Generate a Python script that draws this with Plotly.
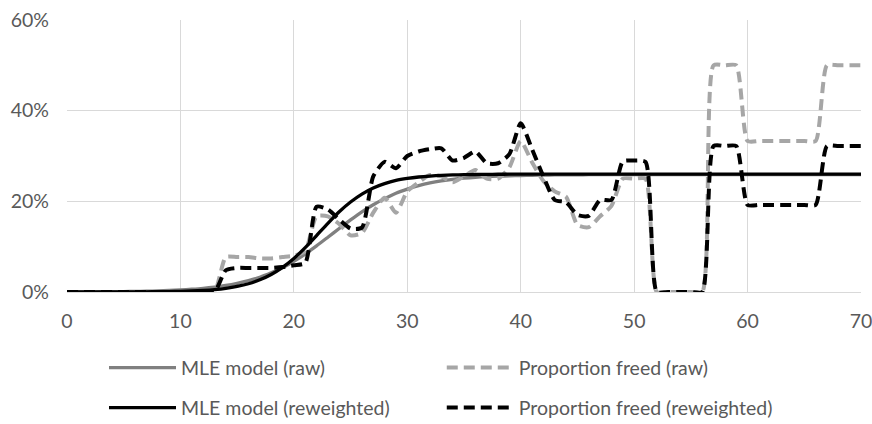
import plotly.graph_objects as go

days = list(range(0, 71))

mle_raw = [0.02, 0.03, 0.04, 0.05, 0.07, 0.10, 0.13, 0.18, 0.25, 0.33,
           0.45, 0.61, 0.81, 1.09, 1.44, 1.91, 2.50, 3.24, 4.22, 5.36,
           6.78, 8.38, 10.17, 12.08, 14.0, 15.9, 17.7, 19.25, 20.6, 21.8,
           22.7, 23.45, 24.05, 24.5, 24.85, 25.1, 25.3, 25.45, 25.55, 25.63,
           25.7, 25.75, 25.79, 25.82, 25.84, 25.86, 25.87, 25.88, 25.89, 25.89,
           25.9, 25.9, 25.9, 25.9, 25.9, 25.9, 25.9, 25.9, 25.9, 25.9,
           25.9, 25.9, 25.9, 25.9, 25.9, 25.9, 25.9, 25.9, 25.9, 25.9, 25.9]

prop_raw = [0, 0, 0, 0, 0, 0, 0, 0, 0, 0,
            0, 0, 0, 0, 7.7, 7.7, 7.7, 7.4, 7.4, 7.7,
            8.0, 9.0, 16.7, 16.7, 15.0, 12.5, 13.0, 17.5, 20.8, 17.5,
            22.2, 24.2, 25.8, 25.5, 24.2, 25.5, 26.9, 25.0, 25.0, 27.5,
            33.3, 28.6, 24.5, 22.2, 21.0, 14.8, 14.3, 16.7, 19.0, 25.0,
            25.0, 25.0, 0, 0, 0, 0, 0, 50.0, 50.0, 50.0,
            33.3, 33.3, 33.3, 33.3, 33.3, 33.3, 33.3, 50.0, 50.0, 50.0, 50.0]

mle_rw = [0.00, 0.00, 0.01, 0.01, 0.01, 0.02, 0.03, 0.04, 0.07, 0.10,
          0.15, 0.24, 0.36, 0.54, 0.82, 1.24, 1.82, 2.69, 3.87, 5.44,
          7.4, 9.8, 12.45, 15.15, 17.7, 19.85, 21.6, 22.95, 23.9, 24.6,
          25.05, 25.37, 25.58, 25.72, 25.82, 25.88, 25.92, 25.95, 25.97, 25.98,
          25.99, 26.0, 26.0, 26.0, 26.0, 26.0, 26.0, 26.0, 26.0, 26.0,
          26.0, 26.0, 26.0, 26.0, 26.0, 26.0, 26.0, 26.0, 26.0, 26.0,
          26.0, 26.0, 26.0, 26.0, 26.0, 26.0, 26.0, 26.0, 26.0, 26.0, 26.0]

prop_rw = [0, 0, 0, 0, 0, 0, 0, 0, 0, 0,
           0, 0, 0, 0, 4.8, 5.3, 5.3, 5.3, 5.3, 5.5,
           5.9, 6.4, 18.8, 18.2, 16.0, 14.0, 14.2, 25.5, 28.7, 27.3,
           30.0, 31.0, 31.5, 31.7, 29.0, 29.6, 31.0, 28.4, 28.4, 30.4,
           37.2, 31.5, 25.5, 20.3, 19.8, 17.0, 16.8, 20.3, 20.3, 28.8,
           29.0, 28.7, 0, 0, 0, 0, 0, 32.2, 32.2, 32.2,
           19.2, 19.2, 19.2, 19.2, 19.2, 19.2, 19.2, 32.2, 32.2, 32.2, 32.2]

x_ticks = [0, 10, 20, 30, 40, 50, 60, 70]
y_ticks = [0, 20, 40, 60]
y_tick_labels = ["0%", "20%", "40%", "60%"]

FONT = "Lato"
TXT = "#595959"
FS = 19.5

series = [
    ("MLE model (raw)", mle_raw, dict(color="#808080", width=3.3), "legend"),
    ("Proportion freed (raw)", prop_raw, dict(color="#a6a6a6", width=4, dash="11px,6px"), "legend2"),
    ("MLE model (reweighted)", mle_rw, dict(color="#000000", width=3.3), "legend3"),
    ("Proportion freed (reweighted)", prop_rw, dict(color="#000000", width=4, dash="11px,6px"), "legend4"),
]

fig = go.Figure()
for name, vals, ln, leg in series:
    fig.add_trace(go.Scatter(x=days, y=vals, name=name, mode="lines",
                             line=dict(shape="spline", smoothing=0.6, **ln),
                             cliponaxis=False, legend=leg))

def leg(x, y):
    return dict(x=x, y=y, orientation="h", xanchor="left", yanchor="middle",
                font=dict(family=FONT, size=FS, color=TXT),
                itemwidth=67, bgcolor="rgba(0,0,0,0)", borderwidth=0)

fig.update_layout(
    width=872, height=424,
    margin=dict(l=67, r=11, t=20, b=132, autoexpand=False),
    paper_bgcolor="white", plot_bgcolor="white",
    font=dict(family=FONT, size=FS, color=TXT),
    showlegend=True,
    legend=leg(0.0466, -0.279),
    legend2=leg(0.472, -0.279),
    legend3=leg(0.0466, -0.426),
    legend4=leg(0.472, -0.426),
    xaxis=dict(range=[0, 70], tickvals=x_ticks, showgrid=True, gridcolor="#d9d9d9",
               gridwidth=1, zeroline=False, showline=True, linecolor="#d9d9d9",
               linewidth=1, ticks="", ticklabelstandoff=12, ticklabeloverflow="allow",
               tickfont=dict(family=FONT, size=FS, color=TXT)),
    yaxis=dict(range=[0, 60], tickvals=y_ticks, ticktext=y_tick_labels,
               showgrid=True, gridcolor="#d9d9d9", gridwidth=1, zeroline=False,
               showline=False, ticks="", ticklabelstandoff=17, ticklabeloverflow="allow",
               tickfont=dict(family=FONT, size=FS, color=TXT)),
)

fig.write_html("out.html")
